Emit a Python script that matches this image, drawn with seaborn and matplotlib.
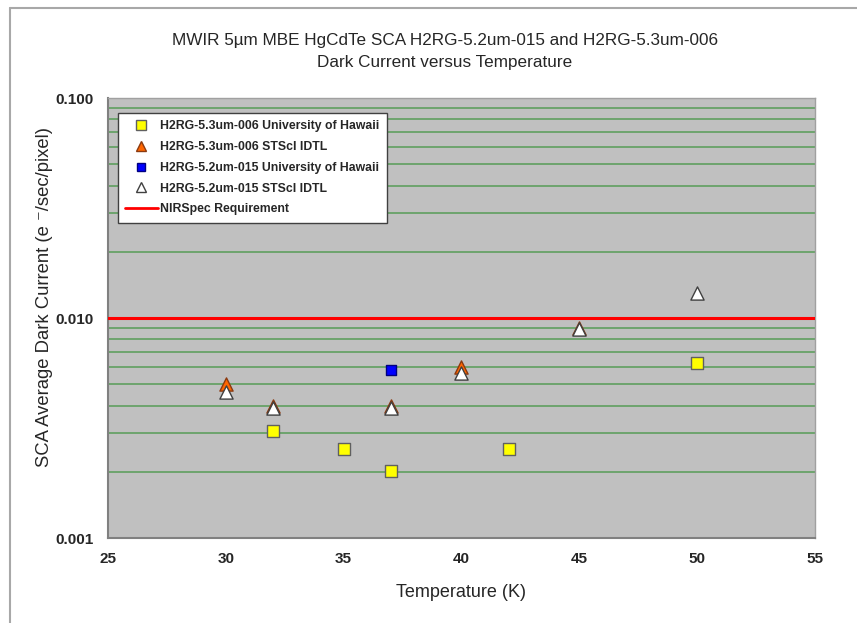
import matplotlib
matplotlib.use("Agg")
import matplotlib.pyplot as plt
import matplotlib.ticker as mticker
from matplotlib.lines import Line2D
import pandas as pd
import seaborn as sns

# --- data ---
temp_006_uh = [32, 35, 37, 42, 50]
dark_006_uh = [0.00306, 0.00253, 0.00202, 0.00253, 0.00624]

temp_006_stsci = [30, 32, 37, 40, 45]
dark_006_stsci = [0.0050, 0.0040, 0.0040, 0.0060, 0.0090]

temp_015_uh = [37]
dark_015_uh = [0.0058]

temp_015_stsci = [30, 32, 37, 40, 45, 50]
dark_015_stsci = [0.0046, 0.0039, 0.0039, 0.0056, 0.0089, 0.0130]

requirement = 0.01

labels = ["H2RG-5.3um-006 University of Hawaii",
          "H2RG-5.3um-006 STScI IDTL",
          "H2RG-5.2um-015 University of Hawaii",
          "H2RG-5.2um-015 STScI IDTL",
          "NIRSpec Requirement"]

sns.set_style("white")
plt.rcParams['font.family'] = ['Liberation Sans', 'DejaVu Sans']

fig = plt.figure(figsize=(8.57, 6.23), dpi=100)
ax = fig.add_axes([108 / 857, 1 - 538 / 623, (815 - 108) / 857, (538 - 98) / 623])
ax.set_facecolor("#c0c0c0")

# outer chart frame (top and left edges visible)
fig.add_artist(Line2D([10 / 857, 10 / 857], [0, 1 - 8 / 623], transform=fig.transFigure,
                      color="#a8a8a8", lw=1.5))
fig.add_artist(Line2D([10 / 857, 1], [1 - 8 / 623, 1 - 8 / 623], transform=fig.transFigure,
                      color="#a8a8a8", lw=1.5))

ax.axhline(requirement, color="#ff0000", lw=2.2, zorder=3)

series = [
    (temp_006_uh, dark_006_uh, "s", "#ffff00", "#606060", 8.5),
    (temp_006_stsci, dark_006_stsci, "^", "#ff6600", "#8b3a10", 9.5),
    (temp_015_uh, dark_015_uh, "s", "#0000ff", "#000080", 7),
    (temp_015_stsci, dark_015_stsci, "^", "#ffffff", "#404040", 9.5),
]
handles = []
for (t, d, mk, fc, ec, ms), lab in zip(series, labels):
    df = pd.DataFrame({"T": t, "I": d})
    sns.scatterplot(data=df, x="T", y="I", marker=mk, color=fc, edgecolor=ec,
                    s=ms ** 2, linewidth=1, ax=ax, zorder=4)
    handles.append(Line2D([], [], ls="none", marker=mk, markerfacecolor=fc,
                          markeredgecolor=ec, markersize=ms * 0.8, label=lab))
handles.append(Line2D([], [], color="#ff0000", lw=2, label=labels[-1]))

ax.set_yscale("log")
ax.set_ylim(0.001, 0.1)
ax.set_xlim(25, 55)
ax.xaxis.set_major_locator(mticker.MultipleLocator(5))
ax.yaxis.set_major_locator(mticker.FixedLocator([0.001, 0.01, 0.1]))
ax.yaxis.set_major_formatter(mticker.FuncFormatter(lambda v, p: f"{v:.3f}"))
ax.yaxis.set_minor_locator(mticker.LogLocator(base=10, subs=range(2, 10)))
ax.yaxis.set_minor_formatter(mticker.NullFormatter())

ax.grid(False)
ax.grid(True, which="both", axis="y", color="#5f9f5f", lw=1.2, zorder=1)
ax.set_axisbelow(True)
ax.tick_params(axis="both", which="major", direction="out", length=5, width=1,
               color="#808080", labelsize=11, pad=5)
ax.tick_params(axis="y", which="minor", length=0)
for lab in ax.get_xticklabels() + ax.get_yticklabels():
    lab.set_fontweight("bold")
for side in ["left", "bottom"]:
    ax.spines[side].set_color("#808080")
    ax.spines[side].set_linewidth(1.5)
for side in ["top", "right"]:
    ax.spines[side].set_color("#a0a0a0")
    ax.spines[side].set_linewidth(1)

ax.set_xlabel("Temperature (K)", fontsize=13, labelpad=13)
ax.set_ylabel("")
fig.text(45 / 857, 1 - 297 / 623, "SCA Average Dark Current (e \u207b/sec/pixel)",
         rotation=90, ha="center", va="center", fontsize=13.3)

fig.text(445 / 857, 1 - 40 / 623,
         "MWIR 5\u00b5m MBE HgCdTe SCA H2RG-5.2um-015 and H2RG-5.3um-006",
         ha="center", va="center", fontsize=12.3)
fig.text(445 / 857, 1 - 62 / 623, "Dark Current versus Temperature",
         ha="center", va="center", fontsize=12.3)

leg = ax.legend(handles=handles, loc="upper left", bbox_to_anchor=(0.005, 0.98),
                frameon=True, fancybox=False, framealpha=1, edgecolor="#404040",
                prop={"size": 8.8, "weight": "bold"}, handlelength=2.7,
                labelspacing=0.72, borderpad=0.6, handletextpad=0.2)
leg.get_frame().set_linewidth(1)

fig.savefig("out.png", dpi=100)
